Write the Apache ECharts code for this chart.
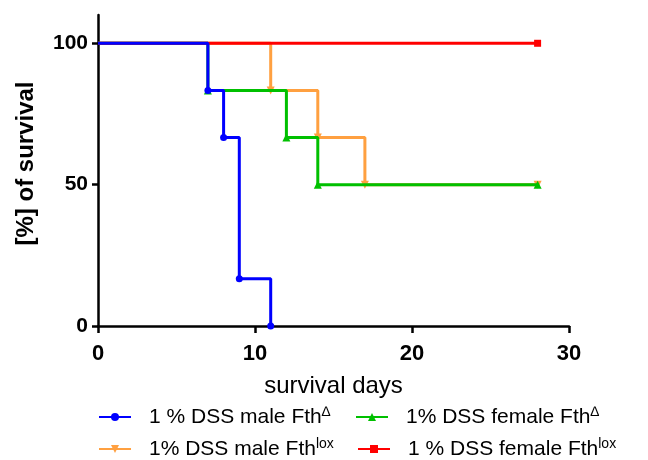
<!DOCTYPE html>
<html>
<head>
<meta charset="utf-8">
<script src="https://cdn.jsdelivr.net/npm/echarts@6/dist/echarts.min.js"></script>
<style>
html,body{margin:0;padding:0;background:#fff;}
#c{width:648px;height:460px;}
</style>
</head>
<body>
<div id="c"></div>
<script>
// ---- data (survival %, step changes at event days) ----
const maleDeltaDays   = [0, 7, 8, 9, 11];
const maleDeltaVals   = [100, 83.33, 66.67, 16.67, 0];
const femDeltaDays    = [0, 7, 12, 14, 28];
const femDeltaVals    = [100, 83.33, 66.67, 50, 50];
const maleLoxDays     = [0, 11, 14, 17, 28];
const maleLoxVals     = [100, 83.33, 66.67, 50, 50];
const femLoxDays      = [0, 28];
const femLoxVals      = [100, 100];
const xTicks = [0, 10, 20, 30];
const yTicks = [0, 50, 100];

const names = {
  mD: '1 % DSS male Fth\u0394',
  fD: '1% DSS female Fth\u0394',
  mL: '1% DSS male Fthlox',
  fL: '1 % DSS female Fthlox'
};
const legendRich = {
  n: {fontSize: 21, fontFamily: 'Liberation Sans, Arial, sans-serif', color: '#000', padding: [0, 0, 0, 13]},
  s: {fontSize: 14, fontFamily: 'Liberation Sans, Arial, sans-serif', color: '#000', verticalAlign: 'top', padding: [0, 0, 10, 0]}
};
const legendText = {};
legendText[names.mD] = '{n|1 % DSS male Fth}{s|\u2206}';
legendText[names.fD] = '{n|1% DSS female Fth}{s|\u2206}';
legendText[names.mL] = '{n|1% DSS male Fth}{s|lox}';
legendText[names.fL] = '{n|1 % DSS female Fth}{s|lox}';

function pts(days, vals) {
  return days.map((d, i) => i === 0 ? {value: [d, vals[i]], symbol: 'none'} : {value: [d, vals[i]]});
}
function mkSeries(name, days, vals, color, symbol, size, z) {
  return {
    name: name, type: 'line', step: 'end', clip: false, z: z,
    data: pts(days, vals),
    symbol: symbol, symbolSize: size, showSymbol: true,
    lineStyle: {color: color, width: 3},
    itemStyle: {color: color},
    emphasis: {disabled: true},
    animation: false
  };
}
const series = [
  mkSeries(names.mL, maleLoxDays, maleLoxVals, '#FFA040', 'path://M0,0L10,0L5,9Z', 8, 2),
  mkSeries(names.fD, femDeltaDays, femDeltaVals, '#00C000', 'triangle', 8, 3),
  mkSeries(names.fL, femLoxDays, femLoxVals, '#FF0000', 'rect', 7, 4),
  mkSeries(names.mD, maleDeltaDays, maleDeltaVals, '#0000FF', 'circle', 7, 5)
];

function mkLegend(name, left, top) {
  return {
    data: [name], left: left, top: top, padding: 0,
    itemWidth: 32, itemHeight: 10,
    formatter: (n) => legendText[n],
    textStyle: {rich: legendRich},
    selectedMode: false
  };
}

const chart = echarts.init(document.getElementById('c'), null, {renderer: 'canvas'});
chart.setOption({
  animation: false,
  backgroundColor: '#fff',
  grid: {left: 98, right: 79, top: 15, bottom: 134, containLabel: false},
  xAxis: {
    type: 'value', min: 0, max: 30, interval: 10,
    name: 'survival days', nameLocation: 'middle', nameGap: 48,
    nameTextStyle: {fontSize: 24, fontFamily: 'Liberation Sans, Arial, sans-serif', color: '#000'},
    axisLine: {lineStyle: {color: '#000', width: 2.5}},
    axisTick: {show: true, length: 7, lineStyle: {color: '#000', width: 2.5}, customValues: xTicks},
    axisLabel: {fontSize: 22, fontWeight: 'bold', fontFamily: 'Liberation Sans, Arial, sans-serif', color: '#000', margin: 17, customValues: xTicks},
    splitLine: {show: false}
  },
  yAxis: {
    type: 'value', min: 0, max: 110, interval: 50,
    name: '[%] of survival', nameLocation: 'middle', nameGap: 60,
    nameTextStyle: {fontSize: 24, fontWeight: 'bold', fontFamily: 'Liberation Sans, Arial, sans-serif', color: '#000', padding: [0, 0, 0, 14]},
    axisLine: {show: true, lineStyle: {color: '#000', width: 2.5}},
    axisTick: {show: true, length: 6, lineStyle: {color: '#000', width: 2.5}, customValues: yTicks},
    axisLabel: {fontSize: 21, fontWeight: 'bold', fontFamily: 'Liberation Sans, Arial, sans-serif', color: '#000', margin: 10, customValues: yTicks},
    splitLine: {show: false}
  },
  legend: [
    mkLegend(names.mD, 98, 405),
    mkLegend(names.fD, 355, 405),
    mkLegend(names.mL, 98, 437),
    mkLegend(names.fL, 357, 437)
  ],
  series: series
});
</script>
</body>
</html>
